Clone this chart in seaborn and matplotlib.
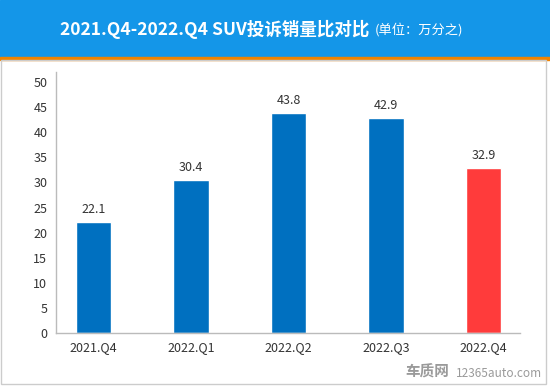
import pandas as pd
import seaborn as sns
import matplotlib.pyplot as plt
from matplotlib.patches import Rectangle

# Data
quarters = ["2021.Q4", "2022.Q1", "2022.Q2", "2022.Q3", "2022.Q4"]
ratio = [22.1, 30.4, 43.8, 42.9, 32.9]
bar_colors = ["#0070C0", "#0070C0", "#0070C0", "#0070C0", "#FF3B3B"]

df = pd.DataFrame({"quarter": quarters, "ratio": ratio})

sns.set_theme(style="white")
plt.rcParams["font.family"] = ["Noto Sans CJK SC", "DejaVu Sans"]

fig = plt.figure(figsize=(5.5, 3.86), dpi=100)
W, H = 550, 386

# header band + orange line + frame
fig.patches.append(Rectangle((0, 1 - 57 / H), 1, 57 / H, transform=fig.transFigure,
                             color="#1496E8", zorder=0))
fig.patches.append(Rectangle((0, 1 - 60 / H), 1, 3 / H, transform=fig.transFigure,
                             color="#F08300", zorder=0))
fig.patches.append(Rectangle((1 / W, 2 / H), 545 / W, (H - 62) / H, transform=fig.transFigure,
                             fill=False, edgecolor="#CCCCCC", lw=1, zorder=0))

fig.text(60 / W, 1 - 29 / H, "2021.Q4-2022.Q4 SUV投诉销量比对比", color="white",
         fontsize=12.6, fontweight="bold", ha="left", va="center")
fig.text(375 / W, 1 - 30 / H, "(单位：万分之)", color="white",
         fontsize=9.5, ha="left", va="center")

ax = fig.add_axes([55.7 / W, 1 - 333 / H, (520 - 55.7) / W, (333 - 72) / H])
sns.barplot(data=df, x="quarter", y="ratio", hue="quarter", palette=bar_colors,
            legend=False, width=0.36, saturation=1, ax=ax)

for i, v in enumerate(ratio):
    ax.text(i, v + 1.2, f"{v}", ha="center", va="bottom", fontsize=9, color="#333333")

ax.set_xlim(-0.388, 4.374)
ax.set_ylim(0, 52)
ax.set_yticks(range(0, 51, 5))
ax.set_xlabel("")
ax.set_ylabel("")
ax.tick_params(axis="both", labelsize=9, colors="#333333", length=0, pad=6)
for s in ["top", "right"]:
    ax.spines[s].set_visible(False)
for s in ["left", "bottom"]:
    ax.spines[s].set_color("#BBBBBB")
    ax.spines[s].set_linewidth(1)

# watermark
fig.text(405 / W, 6 / H, "车质网", color="#9A9A9A",
         fontsize=10.5, fontweight="bold", ha="left", va="bottom")
fig.text(1 - 8 / W, 6 / H, "12365auto.com", color="#9A9A9A",
         fontsize=8.5, ha="right", va="bottom")

plt.savefig("out.png", dpi=100)
